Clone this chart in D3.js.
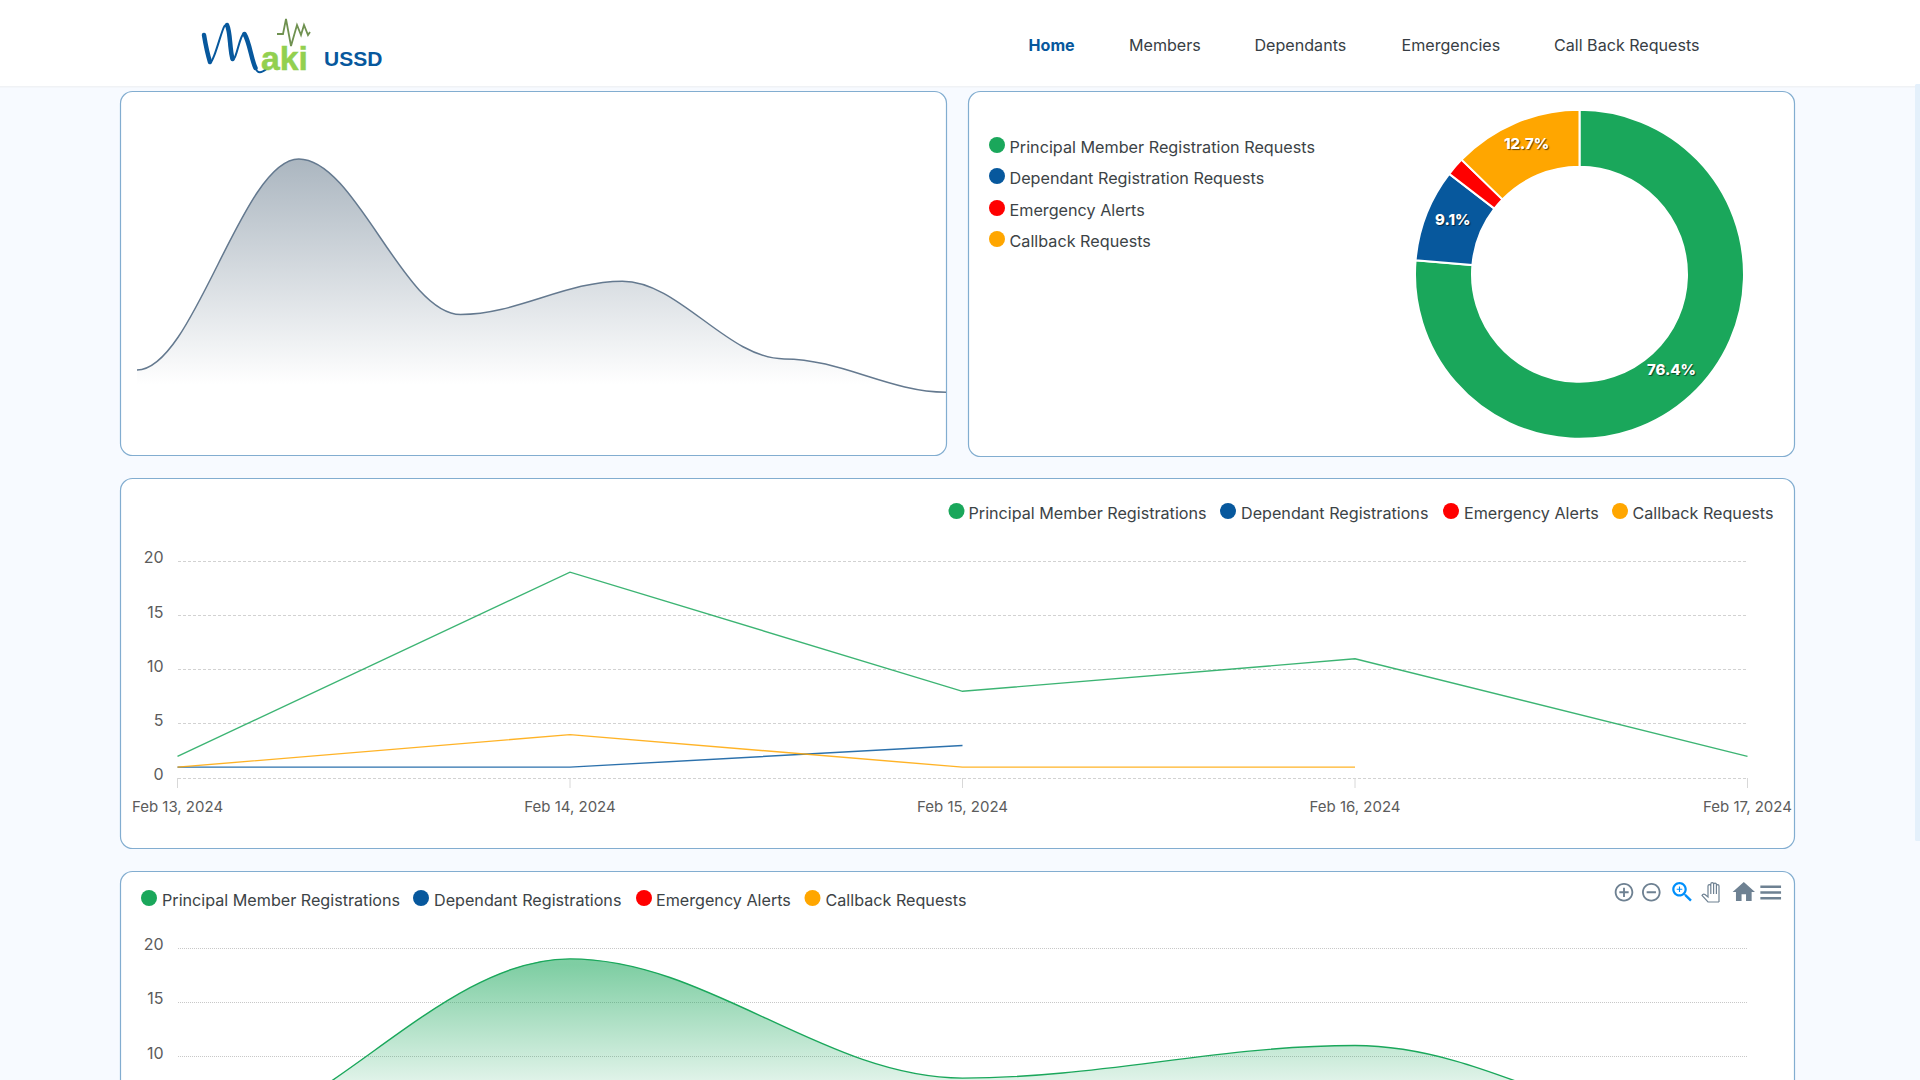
<!DOCTYPE html>
<html>
<head>
<meta charset="utf-8">
<title>Maki USSD</title>
<script src="https://cdn.jsdelivr.net/npm/d3@7"></script>
<style>
    html, body { margin: 0; padding: 0; overflow: hidden; background: #f7faff; }
    svg { display: block; font-family: Inter, "Noto Sans", sans-serif; }
</style>
</head>
<body>
<script>
const navItems = ["Home", "Members", "Dependants", "Emergencies", "Call Back Requests"];
const navStarts = [1028.5, 1129, 1254.5, 1401.5, 1554];

const dates = ["Feb 13, 2024", "Feb 14, 2024", "Feb 15, 2024", "Feb 16, 2024", "Feb 17, 2024"];
const principal = [2, 19, 8, 11, 2];
const dependant = [1, 1, 3, null, null];
const emergency = [1, null, null, null, null];
const callback = [1, 4, 1, 1, null];
const yTicks = [0, 5, 10, 15, 20];

const lineNames = ["Principal Member Registrations", "Dependant Registrations", "Emergency Alerts", "Callback Requests"];
const areaNames = ["Principal Member Registrations", "Dependant Registrations", "Emergency Alerts", "Callback Requests"];
const donutNames = ["Principal Member Registration Requests", "Dependant Registration Requests", "Emergency Alerts", "Callback Requests"];
const donutValues = [42, 5, 1, 7];
const sparkValues = [5, 24, 10, 13, 6, 3];

const colors = ["#1aa75b", "#07589d", "#ff0000", "#ffa600"];
const sparkColor = "#6e8192";

const svg = d3.select("body").append("svg").attr("width", 1920).attr("height", 1080);
const defs = svg.append("defs");

// apex "smooth" curve: flat tangents at each point, handles at 35% of the gap
function smoothCurve(context) {
    let x0, y0, started;
    return {
        areaStart() {},
        areaEnd() {},
        lineStart() { started = false; },
        lineEnd() {},
        point(x, y) {
            x = +x; y = +y;
            if (!started) {
                started = true;
                if (this._area) context.lineTo(x, y); else context.moveTo(x, y);
            } else {
                const l = (x - x0) * 0.35;
                context.bezierCurveTo(x0 + l, y0, x - l, y, x, y);
            }
            x0 = x; y0 = y;
        }
    };
}

function smoothArea(context) {
    let lines = 0;
    const c = smoothCurve(context);
    const start = c.lineStart;
    c.lineStart = function() { start(); this._area = lines++ > 0; };
    return c;
}

function panel(x, y, w, h) {
    svg.append("rect")
        .attr("x", x).attr("y", y).attr("width", w).attr("height", h)
        .attr("rx", 12)
        .attr("fill", "#fff")
        .attr("stroke", "#82add0")
        .attr("stroke-width", 1.2);
}

function gradient(id, color, y1, y2, from) {
    const g = defs.append("linearGradient")
        .attr("id", id)
        .attr("gradientUnits", "userSpaceOnUse")
        .attr("x1", 0).attr("x2", 0).attr("y1", y1).attr("y2", y2);
    g.append("stop").attr("offset", 0).attr("stop-color", color).attr("stop-opacity", from);
    g.append("stop").attr("offset", 1).attr("stop-color", color).attr("stop-opacity", 0);
}

function legendItem(name, color, dotX, dotY, textX, textY, size) {
    svg.append("circle").attr("cx", dotX).attr("cy", dotY).attr("r", 8).attr("fill", color);
    svg.append("text")
        .attr("x", textX).attr("y", textY)
        .attr("dy", "0.35em")
        .attr("font-size", size)
        .attr("fill", "#3c4346")
        .text(name);
}

function drawHeader() {
    svg.append("rect").attr("width", 1920).attr("height", 86).attr("fill", "#fff");
    svg.append("rect").attr("y", 86).attr("width", 1920).attr("height", 1.5).attr("fill", "#f0f2f5");
    // scrollbar thumb down the right edge
    svg.append("rect")
        .attr("x", 1915).attr("y", 84).attr("width", 6).attr("height", 757)
        .attr("rx", 1.5)
        .attr("fill", "#e4f0fb");

    navItems.forEach((n, i) => {
        svg.append("text")
            .attr("x", navStarts[i]).attr("y", 45.5)
            .attr("dy", "0.35em")
            .attr("font-size", 16.1)
            .attr("font-weight", i == 0 ? 700 : 400)
            .attr("fill", i == 0 ? "#07589d" : "#373e44")
            .text(n);
    });

    // logo
    svg.append("path")
        .attr("d", "M204,35 C206.5,45 207.5,57 210,62 C213.5,64 221.5,30 224.5,26 C230.5,22 228.5,55 232.5,60 C236.5,60 239.5,36 243.5,34 C248.5,35 251.5,58 255.5,68 C257.5,74 261.5,73 266.5,69")
        .attr("fill", "none").attr("stroke", "#07589d").attr("stroke-width", 2).attr("stroke-linecap", "round");
    ["M204,35 C205.5,44 207.5,54 210,62", "M227,25 C230.5,32 229.5,48 232.5,59", "M244.5,34 C249.5,42 251.5,60 255.5,68"].forEach(d => {
        svg.append("path")
            .attr("d", d)
            .attr("fill", "none").attr("stroke", "#07589d").attr("stroke-width", 4.5).attr("stroke-linecap", "round");
    });
    svg.append("polyline")
        .attr("points", "277,34 283,34 286,19 291,46 297,25 301,35 304,25 308,35 310,32")
        .attr("fill", "none").attr("stroke", "#6f9150").attr("stroke-width", 1.8);
    svg.append("text")
        .attr("x", 261).attr("y", 69.5)
        .attr("font-family", "Liberation Sans")
        .attr("font-weight", 700).attr("font-size", 34)
        .attr("fill", "#92d050")
        .attr("stroke", "#92d050").attr("stroke-width", 0.5)
        .attr("textLength", 47).attr("lengthAdjust", "spacingAndGlyphs")
        .text("aki");
    svg.append("text")
        .attr("x", 324).attr("y", 66)
        .attr("font-family", "Liberation Sans")
        .attr("font-weight", 700).attr("font-size", 21)
        .attr("fill", "#07589d")
        .text("USSD");
}

function drawSpark() {
    panel(120.5, 91.5, 826, 364);
    const x = d3.scalePoint().domain(d3.range(sparkValues.length)).range([137, 946]);
    const y = d3.scaleLinear().domain([0, 24]).range([425.5, 159]);
    gradient("sparkFill", sparkColor, 159, 385, 0.58);
    svg.append("path")
        .attr("d", d3.area().x((d, i) => x(i)).y0(y(0)).y1(d => y(d)).curve(smoothArea)(sparkValues))
        .attr("fill", "url(#sparkFill)");
    svg.append("path")
        .attr("d", d3.line().x((d, i) => x(i)).y(d => y(d)).curve(smoothCurve)(sparkValues))
        .attr("fill", "none")
        .attr("stroke", "#64798f")
        .attr("stroke-width", 1.5);
}

function drawDonut() {
    panel(968.5, 91.5, 826, 365);
    const total = d3.sum(donutValues);
    const pie = d3.pie().sort(null)(donutValues);
    const arc = d3.arc().innerRadius(107.5).outerRadius(164.5);
    const g = svg.append("g").attr("transform", "translate(1579.5,274.3)");
    g.selectAll("path").data(pie).join("path")
        .attr("d", arc)
        .attr("fill", (d, i) => colors[i])
        .attr("stroke", "#fff")
        .attr("stroke-width", 2);
    pie.forEach(d => {
        const share = d.value / total * 100;
        if (share < 5) return;
        const c = arc.centroid(d);
        g.append("text")
            .attr("x", c[0]).attr("y", c[1] - 5)
            .attr("dy", "0.35em")
            .attr("text-anchor", "middle")
            .attr("font-size", 15)
            .attr("font-weight", 800)
            .attr("fill", "#fff")
            .style("text-shadow", "1px 1px 1px rgba(0,0,0,0.6)")
            .text(share.toFixed(1) + "%");
    });
    const rows = [145, 176, 208, 239];
    donutNames.forEach((n, i) => legendItem(n, colors[i], 997, rows[i], 1009.5, rows[i] + 2.7, 16.2));
}

function drawAxisLabels(g, y, dash) {
    // the lower chart runs past the fold, so only ticks on screen are drawn
    yTicks.filter(t => y(t) < 1080).forEach(t => {
        g.append("line")
            .attr("x1", 177.5).attr("x2", 1747.5)
            .attr("y1", y(t)).attr("y2", y(t))
            .attr("stroke", dash.color)
            .attr("stroke-width", dash.width)
            .attr("stroke-dasharray", dash.pattern)
            .attr("shape-rendering", "crispEdges");
        g.append("text")
            .attr("x", 163.5).attr("y", y(t) - 3.5)
            .attr("dy", "0.35em")
            .attr("text-anchor", "end")
            .attr("font-size", 16)
            .attr("fill", "#5c5c5c")
            .text(t);
    });
}

function seriesPoints(values) {
    return values.map((v, i) => ({date: dates[i], value: v})).filter(d => d.value !== null);
}

function drawLines() {
    panel(120.5, 478.5, 1674, 370);
    const x = d3.scalePoint().domain(dates).range([177.5, 1747.5]);
    const y = d3.scaleLinear().domain([0, 20]).range([778, 561.3]);
    const g = svg.append("g");
    drawAxisLabels(g, y, {color: "#d2d2d2", width: 1, pattern: "3 2"});
    dates.forEach(d => {
        g.append("line")
            .attr("x1", x(d)).attr("x2", x(d))
            .attr("y1", 778).attr("y2", 788)
            .attr("stroke", "#d8d8d8");
        g.append("text")
            .attr("x", x(d)).attr("y", 807)
            .attr("dy", "0.35em")
            .attr("text-anchor", "middle")
            .attr("font-size", 15)
            .attr("fill", "#5c5c5c")
            .text(d);
    });
    const line = d3.line().x(d => x(d.date)).y(d => y(d.value));
    [principal, dependant, emergency, callback].forEach((s, i) => {
        g.append("path")
            .attr("d", line(seriesPoints(s)))
            .attr("fill", "none")
            .attr("stroke", colors[i])
            .attr("stroke-opacity", 0.85)
            .attr("stroke-width", 1.4);
    });
    const dots = [956.5, 1228, 1451, 1620];
    const texts = [968.5, 1241, 1464, 1632.5];
    lineNames.forEach((n, i) => legendItem(n, colors[i], dots[i], 511, texts[i], 513.5, 16.15));
}

function drawAreas() {
    panel(120.5, 871.5, 1674, 300);
    const x = d3.scalePoint().domain(dates).range([177.5, 1747.5]);
    const y = d3.scaleLinear().domain([0, 20]).range([1164.8, 948]);
    const g = svg.append("g");
    drawAxisLabels(g, y, {color: "#c8c8c8", width: 1, pattern: "1 1"});
    const area = d3.area().x(d => x(d.date)).y0(y(0)).y1(d => y(d.value)).curve(smoothArea);
    const line = d3.line().x(d => x(d.date)).y(d => y(d.value)).curve(smoothCurve);
    [principal, dependant, emergency, callback].forEach((s, i) => {
        const pts = seriesPoints(s);
        gradient("areaFill" + i, colors[i], 965, 1118, 0.56);
        g.append("path").attr("d", area(pts)).attr("fill", "url(#areaFill" + i + ")");
        g.append("path").attr("d", line(pts))
            .attr("fill", "none")
            .attr("stroke", colors[i])
            .attr("stroke-width", 1.4);
    });
    const dots = [149, 421, 644, 812.5];
    const texts = [162, 434, 656, 825.5];
    areaNames.forEach((n, i) => legendItem(n, colors[i], dots[i], 898, texts[i], 900.5, 16.15));
    drawToolbar();
}

function icon(d, cx, cy, scale, color) {
    svg.append("path")
        .attr("d", d)
        .attr("transform", `translate(${cx - 12 * scale},${cy - 12 * scale}) scale(${scale})`)
        .attr("fill", color);
}

function drawToolbar() {
    const grey = "#6e8192";
    icon("M13 7h-2v4H7v2h4v4h2v-4h4v-2h-4V7zm-1-5C6.48 2 2 6.48 2 12s4.48 10 10 10 10-4.48 10-10S17.52 2 12 2zm0 18c-4.41 0-8-3.59-8-8s3.59-8 8-8 8 3.59 8 8-3.59 8-8 8z", 1624, 892.3, 0.93, grey);
    icon("M7 11v2h10v-2H7zm5-9C6.48 2 2 6.48 2 12s4.48 10 10 10 10-4.48 10-10S17.52 2 12 2zm0 18c-4.41 0-8-3.59-8-8s3.59-8 8-8 8 3.59 8 8-3.59 8-8 8z", 1651.3, 892.3, 0.93, grey);
    icon("M15.5 14h-.79l-.28-.27C15.41 12.59 16 11.11 16 9.5 16 5.91 13.09 3 9.5 3S3 5.91 3 9.5 5.91 16 9.5 16c1.61 0 3.09-.59 4.23-1.57l.27.28v.79l5 4.99L20.49 19l-4.99-5zm-6 0C7.01 14 5 11.99 5 9.5S7.01 5 9.5 5 14 7.01 14 9.5 11.99 14 9.5 14zM12 10h-2v2H9v-2H7V9h2V7h1v2h2v1z", 1682.3, 892, 1.12, "#008ffb");
    svg.append("path")
        .attr("d", "M1719,902 H1708 L1702,895.5 Q1703,893.5 1705,894.5 L1708,897 V886 a1.4,1.4 0 0 1 2.8,0 V884 a1.4,1.4 0 0 1 2.8,0 V884.5 a1.4,1.4 0 0 1 2.8,0 V886 a1.3,1.3 0 0 1 2.6,0 V902 M1710.8,886 V894 M1713.6,884 V894 M1716.4,884.5 V894")
        .attr("fill", "none")
        .attr("stroke", grey)
        .attr("stroke-width", 1.2);
    icon("M10 20v-6h4v6h5v-8h3L12 3 2 12h3v8z", 1743.8, 892, 1.12, grey);
    icon("M3 18h18v-2H3v2zm0-5h18v-2H3v2zm0-7v2h18V6H3z", 1770.7, 892.5, 1.15, grey);
}

window.onload = function() {
    drawHeader();
    drawSpark();
    drawDonut();
    drawLines();
    drawAreas();
};
</script>
</body>
</html>
